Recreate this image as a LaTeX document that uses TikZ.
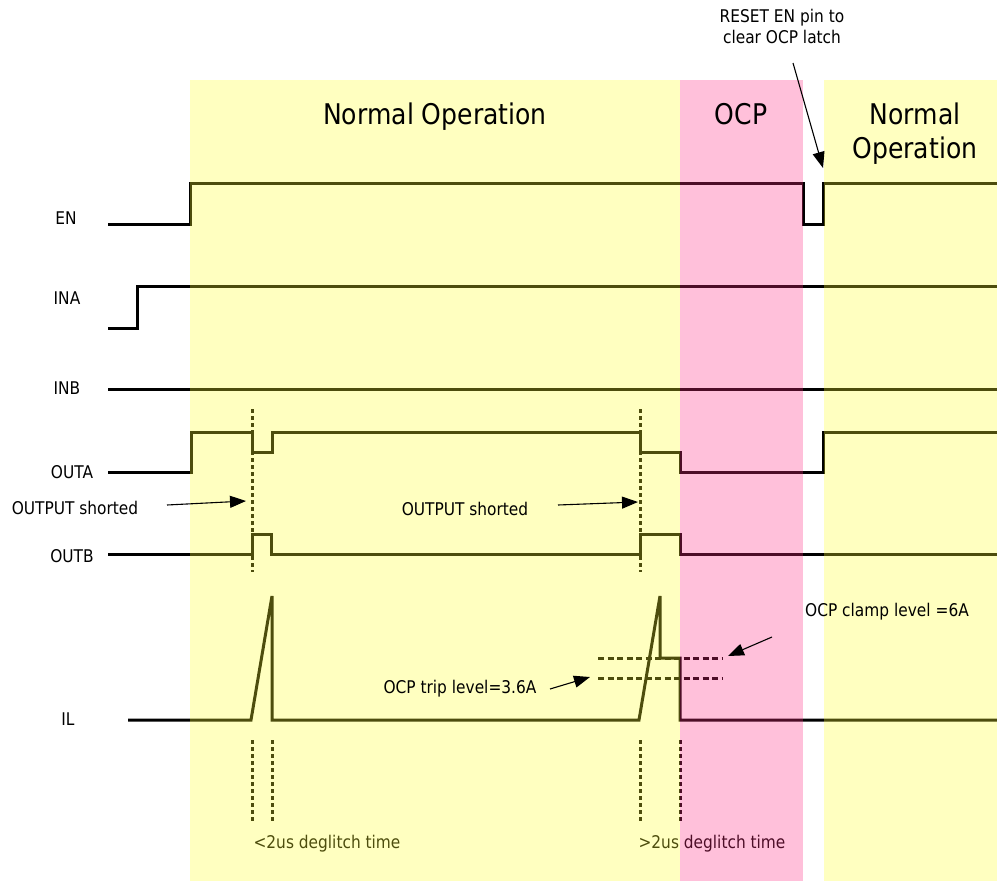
\documentclass[tikz,border=0pt]{standalone}
\usepackage{fontspec}
\setmainfont{DejaVu Sans}[FakeStretch=0.88]
\usetikzlibrary{arrows.meta}
\definecolor{bandY}{RGB}{255,255,45}
\definecolor{bandP}{RGB}{255,45,131}
\begin{document}
\begin{tikzpicture}[x=1pt,y=-1pt,
  sig/.style={line width=3pt, line join=miter, black},
  vdot/.style={line width=3pt, black, dash pattern=on 4pt off 3pt},
  hdash/.style={line width=3pt, black, dash pattern=on 6pt off 3.5pt},
  band/.style={fill opacity=0.3, draw=none},
  lbl/.style={font=\fontsize{17.5}{21}\selectfont, inner sep=0pt, anchor=base},
  ttl/.style={font=\fontsize{28.5}{34}\selectfont, inner sep=0pt, anchor=base},
  pointer/.style={line width=1.1pt, -{Triangle[length=16pt,width=12pt]}}]
\useasboundingbox (0,0) rectangle (997,881);
% signals
\draw[sig] (108,224) -- (190,224) -- (190,183) -- (803,183) -- (803,224) -- (823,224) -- (823,183) -- (997,183);
\draw[sig] (108,328) -- (137,328) -- (137,286) -- (997,286);
\draw[sig] (108,389) -- (997,389);
\draw[sig] (108,472) -- (191,472) -- (191,432) -- (252,432) -- (252,452) -- (272,452) -- (272,432) -- (640,432) -- (640,452) -- (680,452) -- (680,472) -- (823,472) -- (823,432) -- (997,432);
\draw[sig] (108,554) -- (252,554) -- (252,534) -- (271,534) -- (271,554) -- (640,554) -- (640,534) -- (680,534) -- (680,554) -- (997,554);
\draw[sig] (128,720) -- (251,720) -- (272,596) -- (272,720) -- (639,720) -- (660,596) -- (660,658) -- (680,658) -- (680,720) -- (997,720);
% dotted markers
\draw[vdot] (252,409) -- (252,572);
\draw[vdot] (640,409) -- (640,572);
\draw[vdot] (252,740) -- (252,823);
\draw[vdot] (272,740) -- (272,823);
\draw[vdot] (640,740) -- (640,823);
\draw[vdot] (680,740) -- (680,823);
\draw[hdash] (598,658) -- (723,658);
\draw[hdash] (598,678) -- (723,678);
\node[lbl] (dg1) at (327,848) {<2us deglitch time};
\node[lbl] (dg2) at (712,848) {>2us deglitch time};
% bands
\fill[band, bandY] (190,80) rectangle (680,881);
\fill[band, bandP] (680,80) rectangle (803,881);
\fill[band, bandY] (824,80) rectangle (997,881);
% titles
\node[ttl] (t1) at (435,124) {Normal Operation};
\node[ttl] (t2) at (741,124) {OCP};
\node[ttl] (t3a) at (915,124) {Normal};
\node[ttl] (t3b) at (915,158) {Operation};
% signal labels
\node[lbl] (lEN) at (66,224) {EN};
\node[lbl] (lINA) at (67,304) {INA};
\node[lbl] (lINB) at (67,394) {INB};
\node[lbl] (lOUTA) at (72,478) {OUTA};
\node[lbl] (lOUTB) at (72,562) {OUTB};
\node[lbl] (lIL) at (68,725) {IL};
% annotations
\node[lbl] (s1) at (75,514) {OUTPUT shorted};
\node[lbl] (s2) at (465,515) {OUTPUT shorted};
\node[lbl] (trip) at (460,693) {OCP trip level=3.6A};
\node[lbl] (clamp) at (887,616) {OCP clamp level =6A};
\node[lbl] (r1) at (782,22) {RESET EN pin to};
\node[lbl] (r2) at (782,43) {clear OCP latch};
\coordinate (a1t) at (167,505); \coordinate (a1h) at (246,501);
\coordinate (a2t) at (558,505); \coordinate (a2h) at (638,502);
\coordinate (a3t) at (550,689); \coordinate (a3h) at (590,677);
\coordinate (a4t) at (772,637); \coordinate (a4h) at (728,656);
\coordinate (a5t) at (793,63);  \coordinate (a5h) at (823,168);
\draw[pointer] (a1t) -- (a1h);
\draw[pointer] (a2t) -- (a2h);
\draw[pointer] (a3t) -- (a3h);
\draw[pointer] (a4t) -- (a4h);
\draw[pointer] (a5t) -- (a5h);
\end{tikzpicture}
\end{document}
